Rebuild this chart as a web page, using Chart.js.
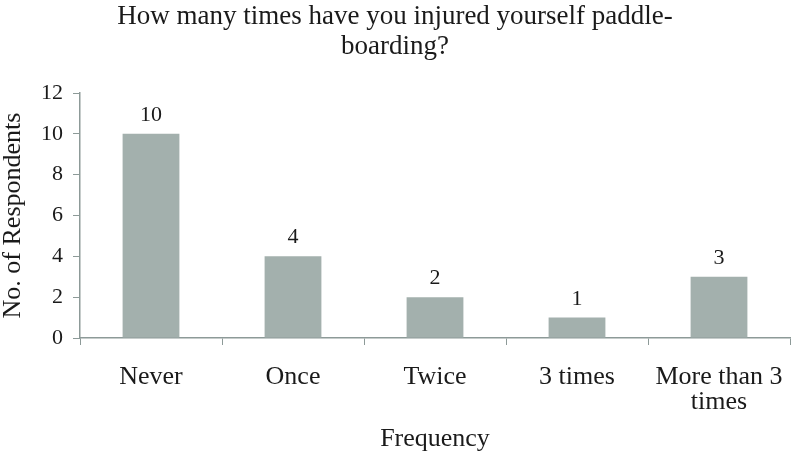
<!DOCTYPE html>
<html>
<head>
<meta charset="utf-8">
<script src="https://cdn.jsdelivr.net/npm/chart.js@4"></script>
<style>
html,body{margin:0;padding:0;background:#fff;}
#wrap{width:794px;height:469px;position:relative;}
</style>
</head>
<body>
<div id="wrap"><canvas id="c" width="794" height="469"></canvas></div>
<script>
const categories = ['Never', 'Once', 'Twice', '3 times', ['More than 3', 'times']];
const respondents = [10, 4, 2, 1, 3];
const yTicks = [0, 2, 4, 6, 8, 10, 12];
const chartTitle = ['How many times have you injured yourself paddle-', 'boarding?'];
const xTitle = 'Frequency';
const yTitle = 'No. of Respondents';

const FONT = "'Liberation Serif', 'DejaVu Serif', serif";
const TEXT = '#1a1a1a';
const AXIS = '#8d9a98';

const valueLabels = {
  id: 'valueLabels',
  afterDatasetsDraw(chart) {
    const ctx = chart.ctx;
    const meta = chart.getDatasetMeta(0);
    ctx.save();
    ctx.font = '22px ' + FONT;
    ctx.fillStyle = TEXT;
    ctx.textAlign = 'center';
    ctx.textBaseline = 'alphabetic';
    meta.data.forEach((bar, i) => {
      ctx.fillText(String(chart.data.datasets[0].data[i]), bar.x, bar.y - 13);
    });
    ctx.restore();
  }
};

new Chart(document.getElementById('c'), {
  type: 'bar',
  data: {
    labels: categories,
    datasets: [{
      data: respondents,
      backgroundColor: '#a3b0ad',
      borderWidth: 0,
      barPercentage: 0.4,
      categoryPercentage: 1.0
    }]
  },
  options: {
    responsive: false,
    animation: false,
    devicePixelRatio: 1,
    layout: { padding: { left: 0, right: 4, top: 0, bottom: 0 } },
    plugins: {
      legend: { display: false },
      tooltip: { enabled: false },
      title: {
        display: true,
        text: chartTitle,
        color: TEXT,
        font: { family: FONT, size: 27, weight: 'normal', lineHeight: 1.1 },
        padding: { top: 2, bottom: 31.6 }
      }
    },
    scales: {
      x: {
        offset: true,
        afterFit(scale) { scale.height = 131; scale.paddingLeft = 0; scale.paddingRight = 0; },
        grid: { display: true, offset: true, drawOnChartArea: false, drawTicks: true, tickLength: 7, color: AXIS, lineWidth: 1 },
        border: { display: true, color: AXIS, width: 1.5 },
        ticks: { color: TEXT, font: { family: FONT, size: 26, lineHeight: 0.96 }, padding: 20, maxRotation: 0, autoSkip: false },
        title: { display: true, text: xTitle, color: TEXT, font: { family: FONT, size: 26, lineHeight: 1.2 }, padding: { top: 0, bottom: 14 } }
      },
      y: {
        min: 0,
        max: 12,
        afterFit(scale) { scale.width = 80; },
        afterBuildTicks(scale) { scale.ticks = yTicks.map(v => ({ value: v })); },
        grid: { display: true, drawOnChartArea: false, drawTicks: true, tickLength: 7, color: AXIS, lineWidth: 1 },
        border: { display: true, color: AXIS, width: 1.5 },
        ticks: { color: TEXT, font: { family: FONT, size: 22 }, padding: 10 },
        title: { display: true, text: yTitle, color: TEXT, font: { family: FONT, size: 26, lineHeight: 1.0 }, padding: { top: 0, bottom: 0 } }
      }
    }
  },
  plugins: [valueLabels]
});
</script>
</body>
</html>
